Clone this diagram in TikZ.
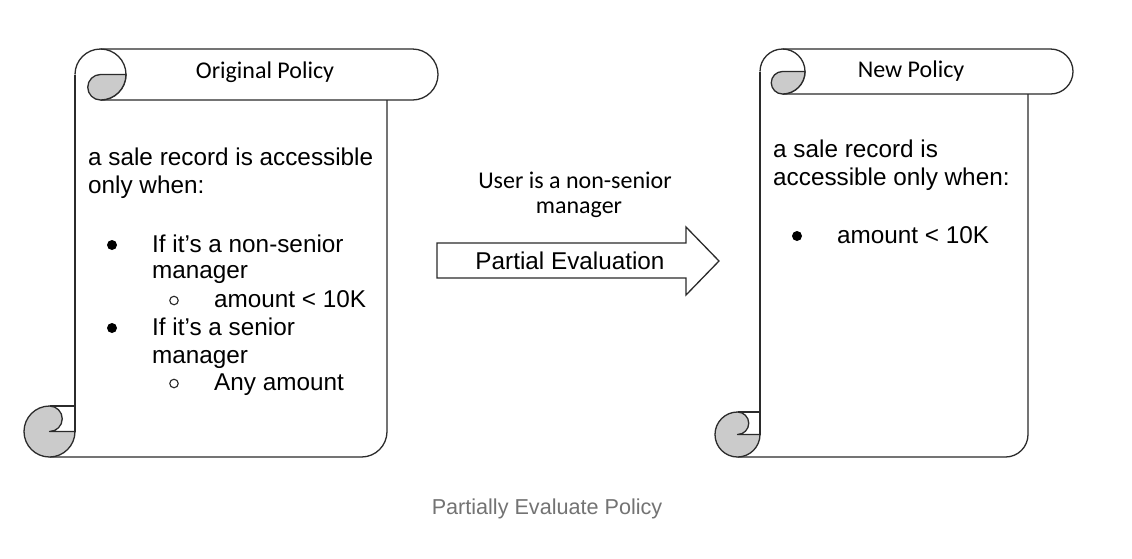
\documentclass[tikz,border=0pt]{standalone}
\usepackage{fontspec}
\setmainfont{Liberation Sans}
\newfontfamily\calibrifont{Carlito}
\newfontfamily\captionfont{Liberation Sans}
\definecolor{linecol}{HTML}{2B2B2B}
\definecolor{curlgrey}{HTML}{CBCBCB}
\definecolor{capgrey}{HTML}{737373}
\tikzset{
  scrl/.style={draw=linecol, line width=1.3pt, line join=round},
  curl/.style={scrl, fill=curlgrey},
  body/.style={inner sep=0pt, anchor=base west, font=\fontsize{24.3}{28}\selectfont},
  ttl/.style={inner sep=0pt, anchor=base, font=\calibrifont\fontsize{24}{28}\selectfont},
  dotbul/.style={circle, fill=black, inner sep=0pt, minimum size=10pt},
  ringbul/.style={circle, draw=black!85, line width=1.1pt, inner sep=0pt, minimum size=8.5pt},
  blockarrow/.style={draw=linecol, line width=1.3pt, line join=miter, fill=white},
  captxt/.style={inner sep=0pt, anchor=base, text=capgrey, font=\captionfont\fontsize{21.6}{24}\selectfont}
}
\newcommand\drawscroll[5]{%
  \pgfmathsetmacro\sxL{#1}\pgfmathsetmacro\syT{#2}%
  \pgfmathsetmacro\sxR{#3}\pgfmathsetmacro\syB{#4}%
  \pgfmathsetmacro\sC{#5}\pgfmathsetmacro\sH{\sC/2}\pgfmathsetmacro\sQ{\sC/4}%
  % top band
  \draw[scrl] ({\sxL+\sC},{\syT+\sH}) arc[start angle=180,end angle=270,radius=\sH]
     -- ({\sxR-\sH},\syT) arc[start angle=270,end angle=450,radius=\sH]
     -- ({\sxL+\sC+\sH},{\syT+\sC});
  % top curl right half
  \draw[scrl] ({\sxL+\sC+\sH},\syT) arc[start angle=270,end angle=450,radius=\sH];
  % top curl grey
  \draw[curl] ({\sxL+\sC+\sH},{\syT+\sH}) -- ({\sxL+2*\sC},{\syT+\sH})
     arc[start angle=0,end angle=90,radius=\sH]
     arc[start angle=90,end angle=270,radius=\sQ] -- cycle;
  % body
  \draw[scrl] ({\sxL+\sC},{\syT+\sH}) -- ({\sxL+\sC},{\syB-\sH});
  \draw[scrl] ({\sxR-\sC},{\syT+\sC}) -- ({\sxR-\sC},{\syB-\sH})
     arc[start angle=0,end angle=90,radius=\sH] -- ({\sxL+\sH},\syB);
  % bottom curl
  \draw[curl] ({\sxL+\sH},\syB) arc[start angle=90,end angle=270,radius=\sH]
     arc[start angle=-90,end angle=90,radius=\sQ]
     -- ({\sxL+\sC},{\syB-\sH})
     arc[start angle=0,end angle=90,radius=\sH] -- cycle;
  \draw[scrl] ({\sxL+\sH},{\syB-\sC}) -- ({\sxL+\sC},{\syB-\sC});
}
\begin{document}
\begin{tikzpicture}[x=1pt,y=-1pt]
\useasboundingbox (0,0) rectangle (1132,558);
\fill[white] (0,0) rectangle (1132,558);

% left scroll
\drawscroll{24}{49}{438}{457}{51}
\node[ttl] (t1) at (265,78) {Original Policy};
\node[body] (l1) at (88,165) {a sale record is accessible};
\node[body] (l2) at (88,193) {only when:};
\node[dotbul] (b1) at (112,245) {};
\node[body] (l3) at (152,252) {If it’s a non-senior};
\node[body] (l4) at (152,278) {manager};
\node[ringbul] (c1) at (174,300.5) {};
\node[body] (l5) at (214,307) {amount < 10K};
\node[dotbul] (b2) at (112,328) {};
\node[body] (l6) at (152,335) {If it’s a senior};
\node[body] (l7) at (152,363) {manager};
\node[ringbul] (c2) at (174,383.5) {};
\node[body] (l8) at (214,390) {Any amount};

% right scroll
\drawscroll{715}{49}{1073}{457}{45}
\node[ttl] (t2) at (911,77) {New Policy};
\node[body] (r1) at (773,157) {a sale record is};
\node[body] (r2) at (773,185) {accessible only when:};
\node[dotbul] (b3) at (797,236) {};
\node[body] (r3) at (837,243) {amount < 10K};

% block arrow
\coordinate (aTL) at (437,243);
\coordinate (aBL) at (437,278);
\coordinate (aT) at (719,261);
\draw[blockarrow] (aTL) -- (686,243) -- (686,227) -- (aT)
   -- (686,295) -- (686,278) -- (aBL) -- cycle;
\node[body, anchor=base] (pe) at (570,269) {Partial Evaluation};
\node[ttl] (u1) at (575,188) {User is a non-senior};
\node[ttl] (u2) at (579,213) {manager};

% caption
\node[captxt] (cap) at (547,514) {Partially Evaluate Policy};
\end{tikzpicture}
\end{document}
